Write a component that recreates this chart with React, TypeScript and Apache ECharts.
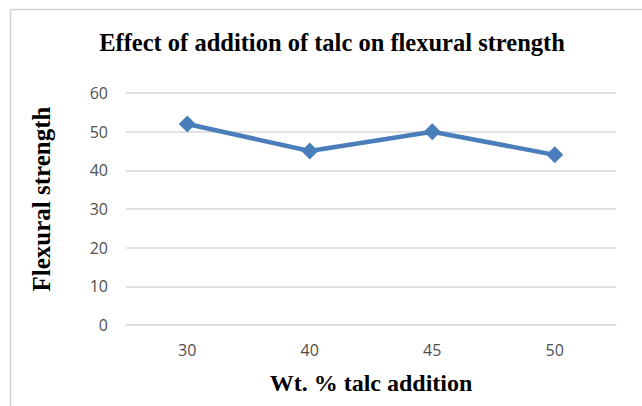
import React, { useEffect, useRef } from "react";
import * as echarts from "echarts";

const categories = ["30", "40", "45", "50"];
const strengthValues = [52, 45, 50, 44];
const titleText = "Effect of addition of talc on flexural strength";
const xAxisName = "Wt. % talc addition";
const yAxisName = "Flexural strength";

export default function App() {
  const ref = useRef<HTMLDivElement>(null);
  useEffect(() => {
    document.body.style.margin = "0";
    const chart = echarts.init(ref.current!, null, { renderer: "svg" });
    const serif = "'Liberation Serif', 'Times New Roman', serif";
    const sans = "'Open Sans', 'Liberation Sans', sans-serif";
    chart.setOption({
      animation: false,
      backgroundColor: "#ffffff",
      graphic: [
        { type: "line", shape: { x1: 10.5, y1: 9.5, x2: 642, y2: 9.5 }, style: { stroke: "#d0d0d0", lineWidth: 1.5 } },
        { type: "line", shape: { x1: 10.5, y1: 9.5, x2: 10.5, y2: 406 }, style: { stroke: "#d0d0d0", lineWidth: 1.5 } },
        {
          type: "text",
          x: 332,
          y: 42,
          style: {
            text: titleText,
            font: `bold 24.5px ${serif}`,
            fill: "#000",
            textAlign: "center",
            textVerticalAlign: "middle",
          },
        },
        {
          type: "text",
          x: 41,
          y: 199,
          rotation: Math.PI / 2,
          style: {
            text: yAxisName,
            font: `bold 25px ${serif}`,
            fill: "#000",
            textAlign: "center",
            textVerticalAlign: "middle",
          },
        },
      ],
      grid: { left: 126, right: 26, top: 93, bottom: 81 },
      xAxis: {
        type: "category",
        data: categories,
        boundaryGap: true,
        name: xAxisName,
        nameLocation: "middle",
        nameGap: 46,
        nameTextStyle: { fontFamily: serif, fontWeight: "bold", fontSize: 24, color: "#000" },
        axisLine: { lineStyle: { color: "#d9d9d9", width: 1.5 } },
        axisTick: { show: false },
        axisLabel: { color: "#4f4f4f", fontSize: 16, fontFamily: sans, margin: 17 },
      },
      yAxis: {
        type: "value",
        min: 0,
        max: 60,
        interval: 10,
        axisLine: { show: false },
        axisTick: { show: false },
        splitLine: { lineStyle: { color: "#d9d9d9", width: 1.5 } },
        axisLabel: { color: "#4f4f4f", fontSize: 16, fontFamily: sans, margin: 18 },
      },
      series: [
        {
          type: "line",
          data: strengthValues,
          symbol: "diamond",
          symbolSize: 17,
          lineStyle: { color: "#4a7ebb", width: 4.5 },
          itemStyle: { color: "#4a7ebb" },
        },
      ],
    });
    return () => chart.dispose();
  }, []);
  return <div ref={ref} style={{ width: 642, height: 406 }} />;
}
